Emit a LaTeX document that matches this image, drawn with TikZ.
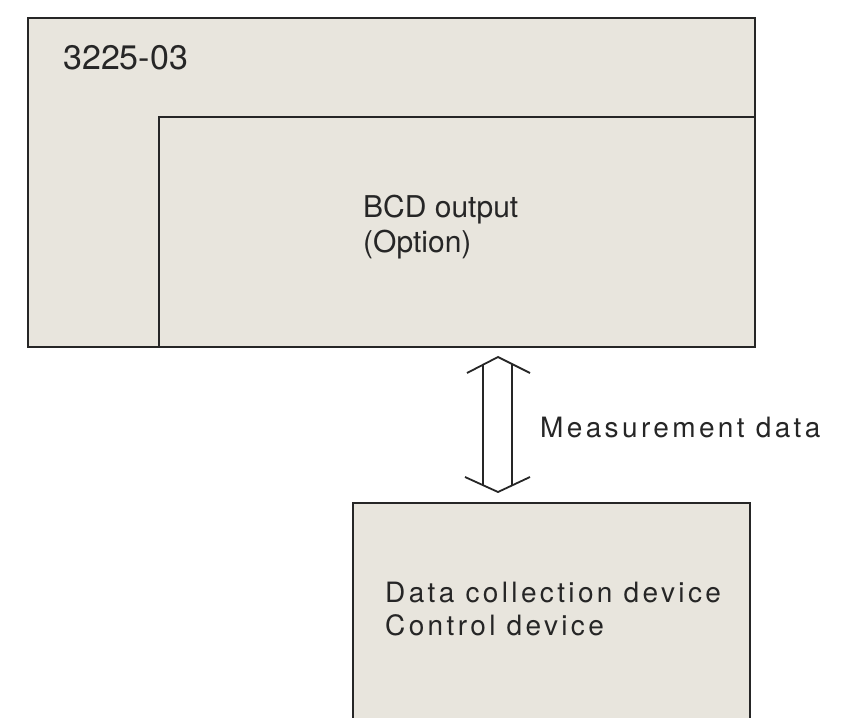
\documentclass[tikz,border=0pt]{standalone}
\usepackage{fontspec}
\setmainfont{TeX Gyre Heros}
\newfontfamily\widefont[LetterSpace=12]{TeX Gyre Heros}
\usetikzlibrary{calc}
\definecolor{panel}{HTML}{E8E5DD}
\definecolor{ink}{HTML}{262626}
\begin{document}
\begin{tikzpicture}[x=1pt,y=-1pt,
  box/.style={draw=ink,fill=panel,line width=2.2pt,inner sep=0pt},
  txt/.style={anchor=base west,inner sep=0pt,text=ink,align=left},
  arrowline/.style={draw=ink,line width=1.8pt}]
\useasboundingbox (0,0) rectangle (856,717);
\clip (0,0) rectangle (856,717);
\node[box,minimum width=727pt,minimum height=329pt] (unit) at (391.5,182.5) {};
\node[box,minimum width=596pt,minimum height=230pt] (bcd) at (457,232) {};
\node[box,minimum width=397pt,minimum height=257pt] (dev) at (551.5,631.5) {};

\node[txt,font=\fontsize{34}{40}\selectfont] (model) at (63,70) {3225-03};
\node[txt,font=\fontsize{30}{35}\selectfont] (bcdtext) at (363,252) {BCD output\\(Option)};
\node[txt,font=\fontsize{28}{33}\selectfont\widefont] (devtext) at (385,635) {Data collection device\\Control device};
\node[txt,font=\fontsize{28}{33}\selectfont\widefont] (datalbl) at (540,437) {Measurement data};

\coordinate (atop) at (498,357);
\coordinate (abot) at (498,492);
\draw[arrowline] ($(atop)+(-31,16)$) -- (atop) -- ($(atop)+(32,16)$);
\draw[arrowline] ($(atop)+(-15,8)$) -- ($(abot)+(-15,-7)$);
\draw[arrowline] ($(atop)+(14,7)$) -- ($(abot)+(14,-7)$);
\draw[arrowline] ($(abot)+(-33,-15)$) -- (abot) -- ($(abot)+(32,-15)$);
\end{tikzpicture}
\end{document}
